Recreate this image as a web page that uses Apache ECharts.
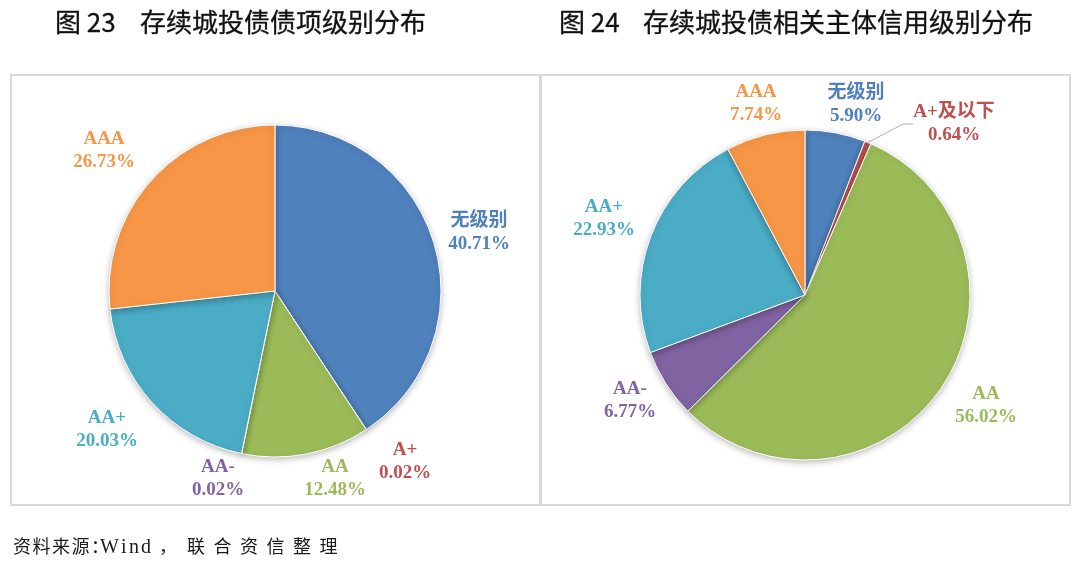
<!DOCTYPE html>
<html>
<head>
<meta charset="utf-8">
<script src="https://cdn.jsdelivr.net/npm/echarts@6/dist/echarts.min.js"></script>
<style>
html,body{margin:0;padding:0;background:#fff;}
#c{width:1080px;height:564px;}
</style>
</head>
<body>
<div id="c"></div>
<script>
// ---- data ----
const titleNo1 = '图 23';
const titleText1 = '存续城投债债项级别分布';
const titleNo2 = '图 24';
const titleText2 = '存续城投债相关主体信用级别分布';
const sourceParts = ['资料来源：', 'Wind', '，', '联合资信整理'];
const categories1 = ['无级别', 'A+', 'AA', 'AA-', 'AA+', 'AAA'];
const values1 = [40.71, 0.02, 12.48, 0.02, 20.03, 26.73];
const categories2 = ['无级别', 'A+及以下', 'AA', 'AA-', 'AA+', 'AAA'];
const values2 = [5.90, 0.64, 56.02, 6.77, 22.93, 7.74];
const colors = ['#4F81BD', '#C0504D', '#9BBB59', '#8064A2', '#4BACC6', '#F79646'];

// ---- layout (label centres) ----
const labelPos1 = [[479, 233], [405, 462], [335, 479], [218, 479], [107, 430], [104, 151]];
const labelPos2 = [[856, 105], [954, 124], [986, 406], [630, 401], [604, 219], [756, 104]];

const chart = echarts.init(document.getElementById('c'), null, {renderer: 'canvas'});

function buildData(cats, vals, lineIdx) {
  return cats.map((n, i) => ({
    name: n,
    value: vals[i],
    itemStyle: {color: colors[i]},
    label: {color: colors[i]},
    labelLine: {show: i === lineIdx}
  }));
}

const labelFont = '"Liberation Serif", "Times New Roman", "Noto Sans CJK SC", serif';

function pieSeries(cats, vals, center, radius, pos, lineIdx) {
  return {
    type: 'pie',
    center: center,
    radius: radius,
    startAngle: 90,
    clockwise: true,
    silent: true,
    animation: false,
    data: buildData(cats, vals, lineIdx),
    itemStyle: {
      borderColor: '#fff',
      borderWidth: 1,
      shadowBlur: 6,
      shadowColor: 'rgba(0,0,0,0.25)',
      shadowOffsetY: 2
    },
    label: {
      show: true,
      position: 'outside',
      fontFamily: labelFont,
      fontWeight: 'bold',
      fontSize: 19,
      lineHeight: 23,
      align: 'center',
      formatter: p => p.name + '\n' + p.value.toFixed(2) + '%'
    },
    labelLine: {
      lineStyle: {color: '#b0b0b0', width: 1},
      length: 10,
      length2: 10
    },
    labelLayout: function (p) {
      const q = pos[p.dataIndex];
      return {x: q[0], y: q[1], align: 'center', verticalAlign: 'middle'};
    }
  };
}

// spaced text helper (character pitch)
function spacedText(str, x0, y, pitch, font) {
  return Array.from(str).map((ch, i) => ({
    type: 'text', x: x0 + i * pitch, y: y,
    style: {text: ch, font: font, fill: '#1a1a1a', textVerticalAlign: 'middle'}
  }));
}
function placedText(str, xs, y, font) {
  return Array.from(str).map((ch, i) => ({
    type: 'text', x: xs[i], y: y,
    style: {text: ch, font: font, fill: '#1a1a1a', textVerticalAlign: 'middle'}
  }));
}

const titleFont = '26px "Noto Sans CJK SC", sans-serif';
const srcFont = '18px "Liberation Serif", "Noto Sans CJK SC", serif';
const srcLatin = '20px "Liberation Serif", serif';
const tStyle = {font: titleFont, fill: '#111', stroke: '#111', lineWidth: 0.3, textVerticalAlign: 'middle'};

const graphics = [
  {type: 'rect', shape: {x: 11, y: 75, width: 529, height: 430},
    style: {fill: 'none', stroke: '#d9d9d9', lineWidth: 2}},
  {type: 'rect', shape: {x: 541, y: 75, width: 529, height: 430},
    style: {fill: 'none', stroke: '#d9d9d9', lineWidth: 2}},
  {type: 'text', x: 55, y: 22, style: Object.assign({text: titleNo1}, tStyle)},
  {type: 'text', x: 140, y: 22, style: Object.assign({text: titleText1}, tStyle)},
  {type: 'text', x: 559, y: 22, style: Object.assign({text: titleNo2}, tStyle)},
  {type: 'text', x: 643, y: 22, style: Object.assign({text: titleText2}, tStyle)},
  {type: 'text', x: 159, y: 548, style: {text: sourceParts[2], font: srcFont, fill: '#1a1a1a', textVerticalAlign: 'middle'}}
].concat(
  spacedText(sourceParts[0], 13, 548, 19.5, srcFont),
  placedText(sourceParts[1], [100, 121, 129, 141], 548, srcLatin),
  spacedText(sourceParts[3], 187, 548, 26.5, srcFont)
);

const option = {
  backgroundColor: '#fff',
  graphic: graphics,
  series: [
    pieSeries(categories1, values1, [275, 291], 166, labelPos1, -1),
    pieSeries(categories2, values2, [805, 295], 165, labelPos2, 1)
  ]
};
chart.setOption(option);
</script>
</body>
</html>
